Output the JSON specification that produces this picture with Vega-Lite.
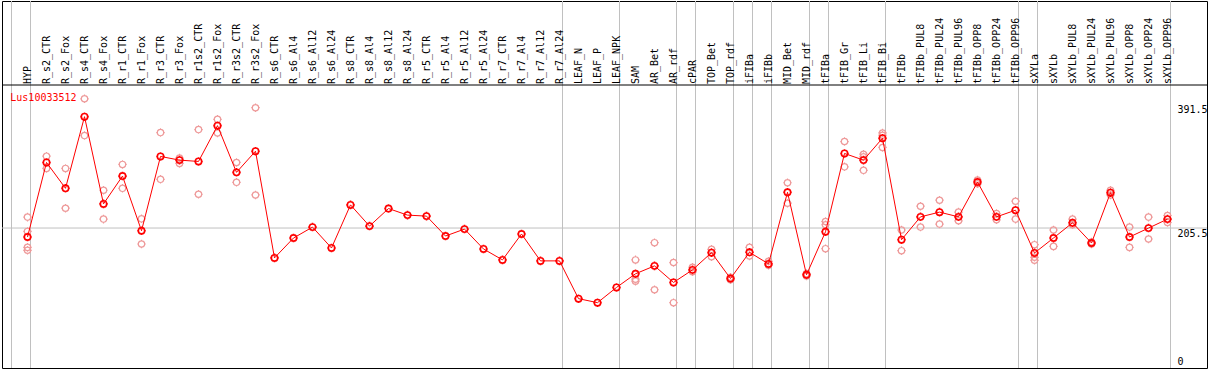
{
  "$schema": "https://vega.github.io/schema/vega-lite/v6.json",
  "width": 1209,
  "height": 370,
  "autosize": {"type": "fit", "contains": "padding"},
  "padding": {"left": 1, "right": 1, "top": 0, "bottom": 1},
  "background": "white",
  "config": {"view": {"stroke": "black", "strokeWidth": 1}, "font": "DejaVu Sans Mono"},
  "resolve": {"axis": {"y": "independent"}},
  "datasets": {
    "genes": [
      {"i": 0, "sample": "HYP", "value": 192.0},
      {"i": 1, "sample": "R_s2_CTR", "value": 304.1},
      {"i": 2, "sample": "R_s2_Fox", "value": 265.2},
      {"i": 3, "sample": "R_s4_CTR", "value": 372.9},
      {"i": 4, "sample": "R_s4_Fox", "value": 241.8},
      {"i": 5, "sample": "R_r1_CTR", "value": 283.6},
      {"i": 6, "sample": "R_r1_Fox", "value": 201.4},
      {"i": 7, "sample": "R_r3_CTR", "value": 313.1},
      {"i": 8, "sample": "R_r3_Fox", "value": 307.6},
      {"i": 9, "sample": "R_r1s2_CTR", "value": 305.6},
      {"i": 10, "sample": "R_r1s2_Fox", "value": 359.4},
      {"i": 11, "sample": "R_r3s2_CTR", "value": 289.2},
      {"i": 12, "sample": "R_r3s2_Fox", "value": 321.0},
      {"i": 13, "sample": "R_s6_CTR", "value": 160.6},
      {"i": 14, "sample": "R_s6_Al4", "value": 190.5},
      {"i": 15, "sample": "R_s6_Al12", "value": 206.9},
      {"i": 16, "sample": "R_s6_Al24", "value": 175.5},
      {"i": 17, "sample": "R_s8_CTR", "value": 240.3},
      {"i": 18, "sample": "R_s8_Al4", "value": 208.4},
      {"i": 19, "sample": "R_s8_Al12", "value": 234.8},
      {"i": 20, "sample": "R_s8_Al24", "value": 224.9},
      {"i": 21, "sample": "R_r5_CTR", "value": 223.4},
      {"i": 22, "sample": "R_r5_Al4", "value": 193.5},
      {"i": 23, "sample": "R_r5_Al12", "value": 203.9},
      {"i": 24, "sample": "R_r5_Al24", "value": 174.0},
      {"i": 25, "sample": "R_r7_CTR", "value": 157.6},
      {"i": 26, "sample": "R_r7_Al4", "value": 196.5},
      {"i": 27, "sample": "R_r7_Al12", "value": 156.1},
      {"i": 28, "sample": "R_r7_Al24", "value": 156.1},
      {"i": 29, "sample": "LEAF_N", "value": 99.3},
      {"i": 30, "sample": "LEAF_P", "value": 93.3},
      {"i": 31, "sample": "LEAF_NPK", "value": 116.2},
      {"i": 32, "sample": "SAM", "value": 136.7},
      {"i": 33, "sample": "AR_Bet", "value": 148.6},
      {"i": 34, "sample": "AR_rdf", "value": 123.7},
      {"i": 35, "sample": "cPAR", "value": 142.6},
      {"i": 36, "sample": "TOP_Bet", "value": 168.5},
      {"i": 37, "sample": "TOP_rdf", "value": 129.6},
      {"i": 38, "sample": "iFIBa", "value": 169.0},
      {"i": 39, "sample": "iFIBb", "value": 151.6},
      {"i": 40, "sample": "MID_Bet", "value": 259.3},
      {"i": 41, "sample": "MID_rdf", "value": 135.2},
      {"i": 42, "sample": "tFIBa", "value": 199.9},
      {"i": 43, "sample": "tFIB_Gr", "value": 317.6},
      {"i": 44, "sample": "tFIB_Li", "value": 307.6},
      {"i": 45, "sample": "tFIB_Bi", "value": 340.5},
      {"i": 46, "sample": "tFIBb", "value": 187.9},
      {"i": 47, "sample": "tFIBb_PUL8", "value": 222.3},
      {"i": 48, "sample": "tFIBb_PUL24", "value": 229.4},
      {"i": 49, "sample": "tFIBb_PUL96", "value": 222.3},
      {"i": 50, "sample": "tFIBb_OPP8", "value": 274.7},
      {"i": 51, "sample": "tFIBb_OPP24", "value": 222.3},
      {"i": 52, "sample": "tFIBb_OPP96", "value": 232.3},
      {"i": 53, "sample": "sXYLa", "value": 168.0},
      {"i": 54, "sample": "sXYLb", "value": 190.5},
      {"i": 55, "sample": "sXYLb_PUL8", "value": 213.4},
      {"i": 56, "sample": "sXYLb_PUL24", "value": 183.0},
      {"i": 57, "sample": "sXYLb_PUL96", "value": 258.7},
      {"i": 58, "sample": "sXYLb_OPP8", "value": 192.0},
      {"i": 59, "sample": "sXYLb_OPP24", "value": 205.4},
      {"i": 60, "sample": "sXYLb_OPP96", "value": 218.9}
    ],
    "reps": [
      {"i": 0, "value": 221.9}, {"i": 0, "value": 200.4}, {"i": 0, "value": 176.4}, {"i": 0, "value": 172.0},
      {"i": 1, "value": 313.5}, {"i": 1, "value": 295.1},
      {"i": 2, "value": 295.1}, {"i": 2, "value": 235.3},
      {"i": 3, "value": 399.8}, {"i": 3, "value": 344.5},
      {"i": 4, "value": 262.3}, {"i": 4, "value": 218.9},
      {"i": 5, "value": 301.1}, {"i": 5, "value": 265.2},
      {"i": 6, "value": 219.3}, {"i": 6, "value": 181.5},
      {"i": 7, "value": 349.0}, {"i": 7, "value": 278.7},
      {"i": 8, "value": 310.6}, {"i": 8, "value": 302.6},
      {"i": 9, "value": 353.5}, {"i": 9, "value": 256.3},
      {"i": 10, "value": 368.9}, {"i": 10, "value": 348.4},
      {"i": 11, "value": 304.1}, {"i": 11, "value": 274.2},
      {"i": 12, "value": 386.4}, {"i": 12, "value": 255.2},
      {"i": 32, "value": 157.6}, {"i": 32, "value": 128.6}, {"i": 32, "value": 125.6},
      {"i": 33, "value": 183.5}, {"i": 33, "value": 112.7},
      {"i": 34, "value": 153.6}, {"i": 34, "value": 93.3},
      {"i": 35, "value": 146.5}, {"i": 35, "value": 139.7},
      {"i": 36, "value": 173.4}, {"i": 36, "value": 162.5},
      {"i": 37, "value": 131.6}, {"i": 37, "value": 127.7},
      {"i": 38, "value": 176.4}, {"i": 38, "value": 163.6},
      {"i": 39, "value": 155.5}, {"i": 39, "value": 149.5},
      {"i": 40, "value": 273.6}, {"i": 40, "value": 242.8},
      {"i": 41, "value": 137.0}, {"i": 41, "value": 133.4},
      {"i": 42, "value": 215.3}, {"i": 42, "value": 210.4}, {"i": 42, "value": 174.5},
      {"i": 43, "value": 335.5}, {"i": 43, "value": 297.5},
      {"i": 44, "value": 316.5}, {"i": 44, "value": 312.5}, {"i": 44, "value": 292.2},
      {"i": 45, "value": 348.4}, {"i": 45, "value": 345.0}, {"i": 45, "value": 326.6},
      {"i": 46, "value": 202.5}, {"i": 46, "value": 171.5},
      {"i": 47, "value": 238.3}, {"i": 47, "value": 206.9},
      {"i": 48, "value": 247.3}, {"i": 48, "value": 211.4},
      {"i": 49, "value": 229.4}, {"i": 49, "value": 216.4},
      {"i": 50, "value": 277.7}, {"i": 50, "value": 272.0},
      {"i": 51, "value": 227.3}, {"i": 51, "value": 217.9},
      {"i": 52, "value": 245.8}, {"i": 52, "value": 218.9},
      {"i": 53, "value": 180.5}, {"i": 53, "value": 161.5}, {"i": 53, "value": 157.0},
      {"i": 54, "value": 202.5}, {"i": 54, "value": 177.9},
      {"i": 55, "value": 218.9}, {"i": 55, "value": 210.4},
      {"i": 56, "value": 184.5}, {"i": 56, "value": 181.5},
      {"i": 57, "value": 262.3}, {"i": 57, "value": 255.2},
      {"i": 58, "value": 206.9}, {"i": 58, "value": 176.4},
      {"i": 59, "value": 221.9}, {"i": 59, "value": 189.0},
      {"i": 60, "value": 224.3}, {"i": 60, "value": 213.8}
    ],
    "seps": [
      {"k": 0}, {"k": 1}, {"k": 29}, {"k": 32}, {"k": 35}, {"k": 36}, {"k": 38}, {"k": 39},
      {"k": 40}, {"k": 42}, {"k": 43}, {"k": 46}, {"k": 53}, {"k": 54}, {"k": 61}
    ]
  },
  "layer": [
    {
      "data": {"name": "seps"},
      "mark": {"type": "rule", "color": "#c0c0c0", "strokeWidth": 1, "xOffset": -16},
      "encoding": {
        "x": {"field": "k", "type": "quantitative", "axis": null,
              "scale": {"domain": [0, 60], "range": [25.5, 1165.5], "zero": false, "nice": false}}
      }
    },
    {
      "data": {"values": [{"v": 205.5}]},
      "mark": {"type": "rule", "color": "#c0c0c0", "strokeWidth": 1},
      "encoding": {
        "y": {"field": "v", "type": "quantitative", "axis": null}
      }
    },
    {
      "data": {"values": [{"v": 420.5}]},
      "mark": {"type": "rule", "color": "black", "strokeWidth": 1},
      "encoding": {
        "y": {"field": "v", "type": "quantitative", "axis": null}
      }
    },
    {
      "data": {"name": "genes"},
      "mark": {"type": "text", "angle": 270, "align": "left", "baseline": "alphabetic", "dy": 3,
               "font": "DejaVu Sans Mono", "fontSize": 10, "color": "black"},
      "encoding": {
        "x": {"field": "i", "type": "quantitative", "axis": null},
        "y": {"datum": 422, "type": "quantitative", "axis": null},
        "text": {"field": "sample"}
      }
    },
    {
      "data": {"values": [{"gene": "Lus10033512"}]},
      "mark": {"type": "text", "align": "left", "baseline": "middle",
               "font": "DejaVu Sans Mono", "fontSize": 10, "color": "#ff0000"},
      "encoding": {
        "x": {"datum": -0.905, "type": "quantitative", "axis": null},
        "y": {"datum": 401.3, "type": "quantitative", "axis": null},
        "text": {"field": "gene"}
      }
    },
    {
      "data": {"name": "reps"},
      "mark": {"type": "point", "filled": false, "color": "#ee9a9a", "strokeWidth": 1.2, "opacity": 1,
               "shape": "M1,0A1,1 0 1,1 -1,0A1,1 0 1,1 1,0M0,-1L0,-1.35M0,1L0,1.35M-1,0L-1.35,0M1,0L1.35,0",
               "size": 40},
      "encoding": {
        "x": {"field": "i", "type": "quantitative", "axis": null},
        "y": {"field": "value", "type": "quantitative", "axis": null}
      }
    },
    {
      "data": {"name": "genes"},
      "mark": {"type": "line", "color": "#ff0000", "strokeWidth": 1},
      "encoding": {
        "x": {"field": "i", "type": "quantitative", "axis": null},
        "y": {"field": "value", "type": "quantitative", "axis": null}
      }
    },
    {
      "data": {"name": "genes"},
      "mark": {"type": "point", "filled": false, "color": "#ff0000", "strokeWidth": 1.6, "opacity": 1,
               "shape": "M1,0A1,1 0 1,1 -1,0A1,1 0 1,1 1,0M0,-1L0,-1.35M0,1L0,1.35M-1,0L-1.35,0M1,0L1.35,0",
               "size": 40},
      "encoding": {
        "x": {"field": "i", "type": "quantitative", "axis": null},
        "y": {"field": "value", "type": "quantitative",
              "scale": {"domain": [-4.93, 546.8], "zero": false, "nice": false},
              "axis": {"orient": "right", "values": [0, 205.5, 391.5], "title": null,
                       "domain": false, "ticks": false, "grid": false,
                       "offset": -32, "labelPadding": 2,
                       "labelAlign": "left",
                       "labelBaseline": {"condition": {"test": "datum.value === 0", "value": "alphabetic"}, "value": "top"},
                       "format": ".1~f",
                       "labelFont": "DejaVu Sans Mono", "labelFontSize": 10, "labelColor": "black",
                       "labelOverlap": false, "labelFlush": false}}
      }
    }
  ]
}
